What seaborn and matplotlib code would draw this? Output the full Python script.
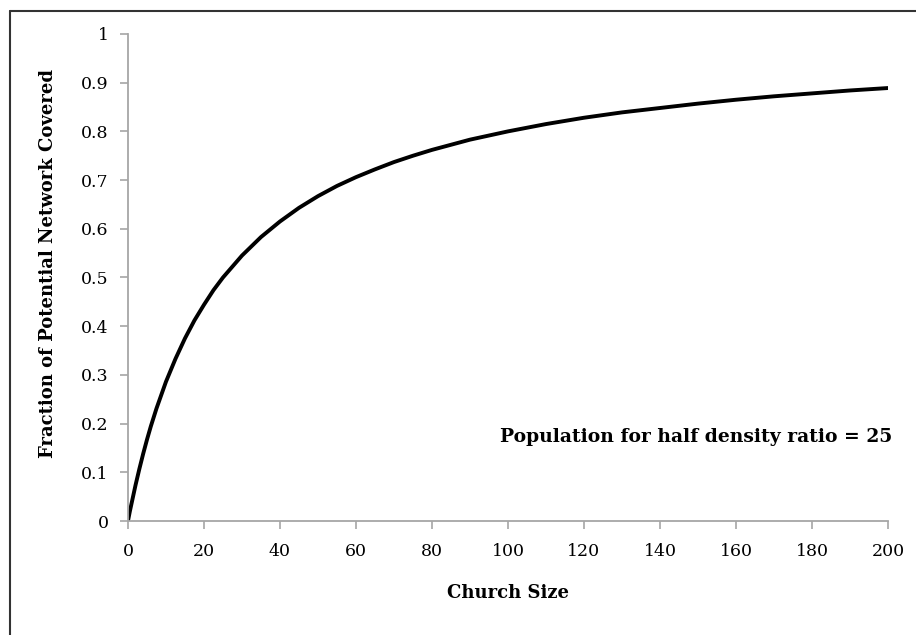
import matplotlib
matplotlib.use("Agg")
import matplotlib.pyplot as plt
import numpy as np
import pandas as pd
import seaborn as sns
from matplotlib.lines import Line2D

# values
church_size = [0, 0.5, 1, 2, 3, 4, 5, 6, 7.5, 8, 10, 12.5, 15, 17.5, 20, 22.5,
               25, 30, 35, 40, 45, 50, 55, 60, 65, 70, 75, 80, 90, 100, 110,
               120, 130, 140, 150, 160, 170, 180, 190, 200]
fraction = [0, 0.02, 0.038, 0.074, 0.107, 0.138, 0.167, 0.194, 0.231, 0.242,
            0.286, 0.333, 0.375, 0.412, 0.444, 0.474, 0.5, 0.545, 0.583,
            0.615, 0.643, 0.667, 0.688, 0.706, 0.722, 0.737, 0.75, 0.762,
            0.783, 0.8, 0.815, 0.828, 0.839, 0.848, 0.857, 0.865, 0.872,
            0.878, 0.884, 0.889]
x_ticks = [0, 20, 40, 60, 80, 100, 120, 140, 160, 180, 200]
y_ticks = [0, 0.1, 0.2, 0.3, 0.4, 0.5, 0.6, 0.7, 0.8, 0.9, 1]
y_tick_labels = ['0', '0.1', '0.2', '0.3', '0.4', '0.5', '0.6', '0.7', '0.8', '0.9', '1']

df = pd.DataFrame({'Church Size': church_size, 'Fraction': fraction})

sns.set_style('white')
plt.rcParams['font.family'] = ['DejaVu Serif']
plt.rcParams['text.color'] = 'black'
plt.rcParams['axes.labelcolor'] = 'black'

fig = plt.figure(figsize=(9.16, 6.35), dpi=100)
ax = fig.add_axes([0.1397, 0.1795, 0.8297, 0.767])

sns.lineplot(x='Church Size', y='Fraction', data=df, color='black',
             linewidth=2.8, ax=ax)
for ln in ax.lines:
    ln.set_solid_joinstyle('round')

ax.set_xlim(0, 200)
ax.set_ylim(0, 1)
ax.set_xticks(x_ticks)
ax.set_xticklabels([str(t) for t in x_ticks])
ax.set_yticks(y_ticks)
ax.set_yticklabels(y_tick_labels)
ax.tick_params(axis='both', direction='out', length=6, width=1.2,
               color='#a6a6a6', labelsize=12.5, labelcolor='black', pad=10,
               bottom=True, left=True)
ax.tick_params(axis='y', pad=8)

sns.despine(ax=ax)
for s in ['left', 'bottom']:
    ax.spines[s].set_color('#a6a6a6')
    ax.spines[s].set_linewidth(1.3)

ax.set_xlabel('Church Size', fontsize=13, fontweight='bold', labelpad=17)
ax.set_ylabel('Fraction of Potential Network Covered', fontsize=13,
              fontweight='bold')
ax.yaxis.set_label_coords(-0.093, 0.529)

ax.text(201, 0.172, 'Population for half density ratio = 25', fontsize=13.5,
        fontweight='bold', ha='right', va='center')

# outer frame (top and left edges only visible)
fig.add_artist(Line2D([10 / 916, 10 / 916], [0, 1 - 11 / 635],
                      transform=fig.transFigure, color='#333333', linewidth=1.5))
fig.add_artist(Line2D([10 / 916, 1], [1 - 11 / 635, 1 - 11 / 635],
                      transform=fig.transFigure, color='#333333', linewidth=1.5))

fig.savefig('out.png', dpi=100)
